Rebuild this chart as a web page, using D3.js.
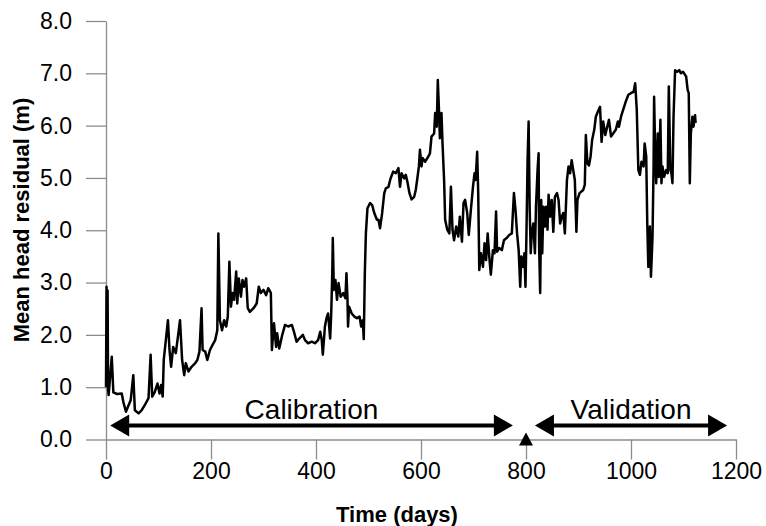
<!DOCTYPE html>
<meta charset="utf-8">
<style>
    body { margin: 0; background: #fff; }
    svg text { font-family: "Liberation Sans", Arial, sans-serif; fill: #000; }
    .axis path, .axis line { stroke: #8c8c8c; stroke-width: 1.3px; }
    .axis text { font-size: 23px; }
    .title { font-size: 22px; font-weight: bold; }
    .phase { font-size: 28px; }
    .residual { fill: none; stroke: #000; stroke-width: 2.5px; stroke-linejoin: round; }
</style>
<svg width="766" height="526"></svg>
<script src="https://d3js.org/d3.v7.min.js"></script>
<script>
    // time (days) and mean head residual (m)
    var days = [0, 1, 2, 3, 4, 5, 11, 14, 21, 30, 33, 38, 42, 47, 52, 55, 62, 68, 74, 81,
        85, 88, 93, 98, 102, 105, 108, 110, 114, 118, 121, 124, 128, 133, 141, 145, 149, 152, 157, 163,
        170, 174, 178, 182, 184, 189, 193, 198, 203, 208, 212, 214, 217, 221, 225, 229, 232, 235, 238, 241,
        244, 248, 250, 253, 257, 260, 263, 267, 270, 274, 281, 287, 291, 295, 300, 305, 309, 311, 314, 316,
        320, 324, 326, 330, 335, 341, 347, 354, 358, 363, 368, 375, 379, 385, 392, 398, 404, 408, 411, 413,
        417, 420, 423, 427, 429, 431, 432, 434, 437, 440, 443, 447, 452, 456, 458, 460, 461, 463, 468, 473,
        478, 483, 486, 489, 491, 493, 495, 498, 503, 507, 511, 516, 519, 522, 526, 530, 533, 538, 542, 547,
        552, 557, 560, 563, 568, 571, 574, 578, 582, 587, 590, 593, 596, 598, 601, 603, 608, 614, 617, 620,
        625, 627, 630, 632, 634, 636, 639, 641, 644, 646, 650, 654, 657, 660, 663, 667, 671, 674, 678, 681,
        684, 688, 691, 695, 699, 702, 704, 707, 709, 711, 714, 718, 721, 724, 727, 730, 733, 737, 740, 743,
        745, 749, 754, 758, 763, 768, 773, 777, 780, 783, 786, 789, 791, 794, 797, 799, 801, 803, 805, 807,
        809, 811, 814, 817, 819, 822, 824, 825, 827, 829, 831, 833, 836, 838, 841, 843, 846, 849, 852, 855,
        859, 862, 865, 868, 871, 874, 878, 881, 884, 887, 890, 893, 896, 898, 902, 909, 912, 914, 917, 920,
        923, 926, 930, 933, 937, 941, 944, 947, 951, 954, 958, 962, 966, 971, 975, 977, 981, 985, 990, 995,
        1000, 1005, 1008, 1011, 1014, 1017, 1020, 1024, 1026, 1029, 1031, 1033, 1036, 1038, 1041, 1043, 1044, 1046, 1048, 1051,
        1053, 1056, 1058, 1060, 1063, 1067, 1070, 1072, 1075, 1077, 1079, 1081, 1084, 1088, 1092, 1095, 1099, 1103, 1105, 1108,
        1110, 1112, 1114, 1117, 1119, 1122, 1123];

    var residual = [1.0, 2.92, 1.1, 2.85, 0.95, 0.85, 1.58, 0.9, 0.87, 0.88, 0.72, 0.53, 0.63, 0.75, 1.23, 0.56, 0.5, 0.56, 0.66, 0.79,
        1.62, 0.82, 0.91, 1.07, 0.88, 1.04, 0.82, 1.52, 1.9, 2.28, 1.71, 1.39, 1.77, 1.65, 2.28, 1.52, 1.23, 1.46, 1.3, 1.39,
        1.46, 1.52, 1.68, 2.51, 1.71, 1.68, 1.52, 1.71, 1.81, 1.9, 2.09, 3.94, 2.28, 2.09, 2.28, 2.16, 2.35, 3.4, 2.54, 2.8,
        2.67, 3.21, 2.6, 3.08, 2.73, 3.05, 2.92, 3.08, 2.51, 2.44, 2.51, 2.6, 2.92, 2.8, 2.86, 2.76, 2.89, 2.86, 2.8, 1.71,
        2.22, 1.77, 2.03, 1.74, 1.97, 2.19, 2.16, 2.19, 2.06, 1.87, 1.93, 2.0, 1.9, 1.84, 1.87, 1.84, 1.9, 2.06, 1.9, 1.62,
        2.16, 2.32, 2.41, 1.93, 2.41, 3.18, 3.85, 2.86, 3.05, 2.67, 2.99, 2.73, 2.8, 2.7, 3.18, 2.67, 2.16, 2.54, 2.41, 2.35,
        2.32, 2.35, 2.16, 2.28, 1.92, 3.18, 3.94, 4.42, 4.52, 4.48, 4.33, 4.2, 4.2, 4.04, 4.33, 4.71, 4.8, 4.83, 4.99, 5.12,
        5.09, 5.19, 4.83, 5.09, 4.99, 5.06, 4.93, 4.71, 4.59, 4.64, 4.77, 4.99, 5.22, 5.54, 5.22, 5.38, 5.31, 5.41, 5.47, 5.79,
        5.85, 6.24, 5.98, 6.87, 6.36, 5.76, 6.24, 5.66, 4.96, 4.2, 4.01, 3.94, 4.83, 4.01, 3.81, 4.07, 3.88, 4.26, 3.78, 4.52,
        4.58, 4.33, 3.91, 4.39, 4.83, 5.09, 4.96, 5.5, 4.71, 3.24, 3.56, 3.3, 3.75, 3.43, 3.94, 3.5, 3.15, 3.62, 3.56, 4.36,
        3.59, 3.66, 3.62, 3.81, 3.85, 3.91, 3.94, 4.71, 4.39, 3.94, 3.62, 2.92, 3.5, 3.3, 3.56, 2.92, 4.01, 5.34, 6.08, 4.42,
        3.56, 3.94, 4.13, 3.56, 4.45, 5.15, 5.47, 3.69, 2.8, 4.58, 3.56, 4.45, 4.07, 4.45, 4.01, 4.68, 4.26, 4.58, 3.97, 4.64,
        4.71, 4.58, 4.13, 4.26, 4.33, 3.94, 4.96, 5.22, 5.09, 5.34, 5.15, 4.96, 3.97, 4.58, 4.71, 4.77, 4.87, 5.82, 5.28, 5.24,
        5.41, 5.73, 5.92, 6.17, 6.27, 6.36, 5.69, 6.08, 5.82, 5.95, 6.11, 5.79, 5.85, 5.92, 6.08, 5.98, 6.17, 6.3, 6.46, 6.59,
        6.62, 6.65, 6.81, 6.3, 5.15, 5.06, 5.31, 5.22, 5.66, 5.41, 4.13, 3.3, 4.07, 3.11, 3.88, 5.22, 6.55, 5.54, 4.9, 5.85,
        5.02, 6.11, 4.9, 5.22, 5.02, 5.15, 5.09, 6.75, 5.15, 5.09, 4.9, 6.17, 7.06, 7.03, 7.06, 7.0, 7.03, 6.97, 6.94, 6.68,
        6.62, 4.9, 5.85, 6.17, 5.98, 6.2, 6.05];

    var xTicks = [0, 200, 400, 600, 800, 1000, 1200];
    var yTicks = [0, 1, 2, 3, 4, 5, 6, 7, 8];

    // calibration / validation periods
    var phaseNames = ["Calibration", "Validation"];
    var phaseStart = [8, 817];
    var phaseEnd = [775, 1183];
    var splitDay = 800;

    var svg = d3.select("svg");

    var x = d3.scaleLinear().domain([0, 1200]).range([106, 736]);
    var y = d3.scaleLinear().domain([0, 8]).range([439.5, 21]);

    svg.append("g")
        .attr("class", "axis")
        .attr("transform", "translate(0," + y(0) + ")")
        .call(d3.axisBottom(x).tickValues(xTicks).tickSize(20).tickPadding(2).tickSizeOuter(0)
            .tickFormat(d3.format("d")))
        .call(function(g) { g.selectAll("text").attr("dy", "0.75em"); });

    svg.append("g")
        .attr("class", "axis")
        .attr("transform", "translate(" + x(0) + ",0)")
        .call(d3.axisLeft(y).tickValues(yTicks).tickSize(20).tickPadding(14).tickSizeOuter(0)
            .tickFormat(d3.format(".1f")));

    svg.selectAll(".axis text").attr("font-family", null).style("fill", "#000");

    var line = d3.line()
        .x(function(d, i) { return x(days[i]); })
        .y(function(d) { return y(d); });

    svg.append("path")
        .datum(residual)
        .attr("class", "residual")
        .attr("d", line);

    // double headed arrows
    var ay = y(0.27), head = 19, half = 11;
    phaseNames.forEach(function(name, i) {
        var x0 = x(phaseStart[i]), x1 = x(phaseEnd[i]);
        svg.append("line")
            .attr("x1", x0 + head - 2).attr("x2", x1 - head + 2)
            .attr("y1", ay).attr("y2", ay)
            .attr("stroke", "#000").attr("stroke-width", 4);
        svg.append("path")
            .attr("d", "M" + x0 + "," + ay + "L" + (x0 + head) + "," + (ay - half) + "L" + (x0 + head) + "," + (ay + half) + "Z");
        svg.append("path")
            .attr("d", "M" + x1 + "," + ay + "L" + (x1 - head) + "," + (ay - half) + "L" + (x1 - head) + "," + (ay + half) + "Z");
        svg.append("text")
            .attr("class", "phase")
            .attr("x", (x0 + x1) / 2)
            .attr("y", ay - 6)
            .attr("text-anchor", "middle")
            .text(name);
    });

    // marker for end of calibration
    var mx = x(splitDay), my = y(0);
    svg.append("path")
        .attr("d", "M" + mx + "," + (my - 7) + "L" + (mx + 7) + "," + (my + 6) + "L" + (mx - 7) + "," + (my + 6) + "Z");

    svg.append("text")
        .attr("class", "title")
        .attr("x", 397)
        .attr("y", 522)
        .attr("text-anchor", "middle")
        .text("Time (days)");

    svg.append("text")
        .attr("class", "title")
        .attr("transform", "translate(29," + 220 + ") rotate(-90)")
        .attr("text-anchor", "middle")
        .text("Mean head residual (m)");
</script>
